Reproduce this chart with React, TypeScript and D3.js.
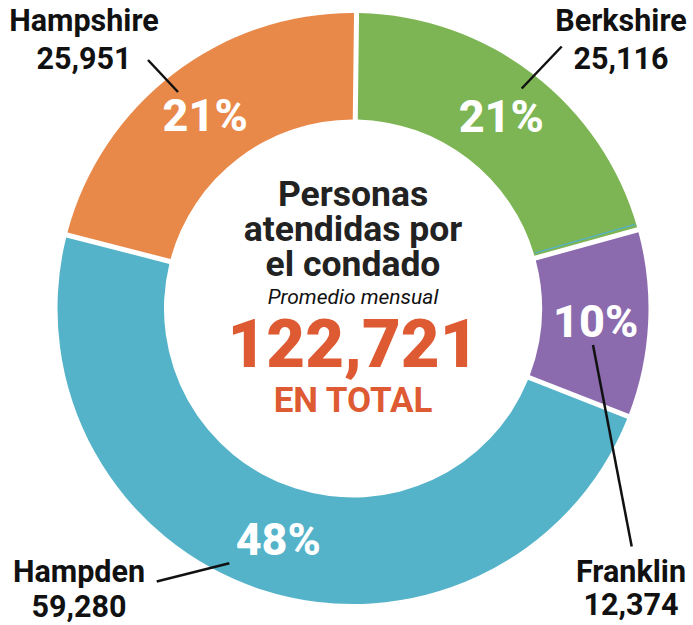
import React from "react";
import * as d3 from "d3";

// ---- data ----
const counties = ["Berkshire", "Franklin", "Hampden", "Hampshire"];
const people = [25116, 12374, 59280, 25951];
const shareLabels = ["21%", "10%", "48%", "21%"];
const countyColors = ["#7DB554", "#8B6BAE", "#54B2C9", "#E8894A"];
const centerTitle = ["Personas", "atendidas por", "el condado"];
const centerSubtitle = "Promedio mensual";
const totalLabel = "EN TOTAL";

// ---- layout ----
const W = 693;
const H = 625;
const cx = 353;
const cy = 308.5;
const outerR = 295.5;
const innerR = 189;
const labelR = 243;
const gap = 5;
const rot = 0.012;

// callout layout relative to pie centre: text centre x, two baselines, leader line ends
const callouts = [
  { tx: 268, b1: -278, b2: -240, l: [[168.7, -220], [208.7, -262]] },
  { tx: 278, b1: 273.5, b2: 306, l: [[240, 36.5], [278.7, 238]] },
  { tx: -274, b1: 273.5, b2: 308, l: [[-123.7, 254.8], [-196.3, 273]] },
  { tx: -269, b1: -278, b2: -240, l: [[-175, -216.5], [-205, -248.5]] },
];

const FONT = "Roboto, 'Noto Sans', 'DejaVu Sans', sans-serif";

export default function App() {
  const total = d3.sum(people);
  const rows = counties.map((c, i) => ({ name: c, value: people[i], i }));
  const pie = d3
    .pie<any>()
    .sort(null)
    .value((d: any) => d.value)
    .startAngle(rot)
    .endAngle(rot + Math.PI * 2)
    .padAngle(gap / outerR);
  const arcs = pie(rows);
  const arc = d3
    .arc<any>()
    .innerRadius(innerR)
    .outerRadius(outerR)
    .padRadius(outerR);
  const labelArc = d3.arc<any>().innerRadius(labelR).outerRadius(labelR);
  const fmt = d3.format(",");

  // thin blue edge line at the end of the first slice (seen in the reference)
  const a0 = arcs[0].endAngle - arcs[0].padAngle / 2;
  const off = gap / 2 + 0.8;
  const ux = Math.sin(a0), uy = -Math.cos(a0);
  const nx = -Math.cos(a0), ny = -Math.sin(a0);
  const edge = [innerR + 1, outerR - 1].map((rr) => [ux * rr + nx * off, uy * rr + ny * off]);

  return (
    <svg
      width={W}
      height={H}
      style={{ position: "absolute", left: 0, top: 0, background: "#fff" }}
      fontFamily={FONT}
    >
      <g transform={`translate(${cx},${cy})`}>
        {arcs.map((a, i) => (
          <path key={i} d={arc(a) as string} fill={countyColors[i]} />
        ))}
        <line
          x1={edge[0][0]}
          y1={edge[0][1]}
          x2={edge[1][0]}
          y2={edge[1][1]}
          stroke={countyColors[2]}
          strokeWidth={1.4}
        />
        {arcs.map((a, i) => {
          const [x, y] = labelArc.centroid(a);
          return (
            <text
              key={"p" + i}
              x={x}
              y={y}
              dy="0.35em"
              textAnchor="middle"
              fill="#fff"
              fontWeight={800}
              fontSize={45}
            >
              {shareLabels[i]}
            </text>
          );
        })}
        {callouts.map((c, i) => (
          <g key={"c" + i}>
            <line
              x1={c.l[0][0]}
              y1={c.l[0][1]}
              x2={c.l[1][0]}
              y2={c.l[1][1]}
              stroke="#111"
              strokeWidth={2.5}
            />
            <text x={c.tx} y={c.b1} textAnchor="middle" fontWeight={700} fontSize={30.5} fill="#111">
              {counties[i]}
            </text>
            <text x={c.tx} y={c.b2} textAnchor="middle" fontWeight={700} fontSize={30.5} fill="#111">
              {fmt(people[i])}
            </text>
          </g>
        ))}
        {centerTitle.map((t, i) => (
          <text
            key={"t" + i}
            x={0}
            y={-102.5 + i * 35}
            textAnchor="middle"
            fontWeight={700}
            fontSize={35.5}
            fill="#222"
          >
            {t}
          </text>
        ))}
        <text x={0} y={-4.5} textAnchor="middle" fontStyle="italic" fontSize={21} fill="#111">
          {centerSubtitle}
        </text>
        <text x={0} y={58.5} textAnchor="middle" fontWeight={900} fontSize={67} fill="#DE5A33">
          {fmt(total)}
        </text>
        <text x={0} y={103.5} textAnchor="middle" fontWeight={700} fontSize={35} fill="#DE5A33">
          {totalLabel}
        </text>
      </g>
    </svg>
  );
}
